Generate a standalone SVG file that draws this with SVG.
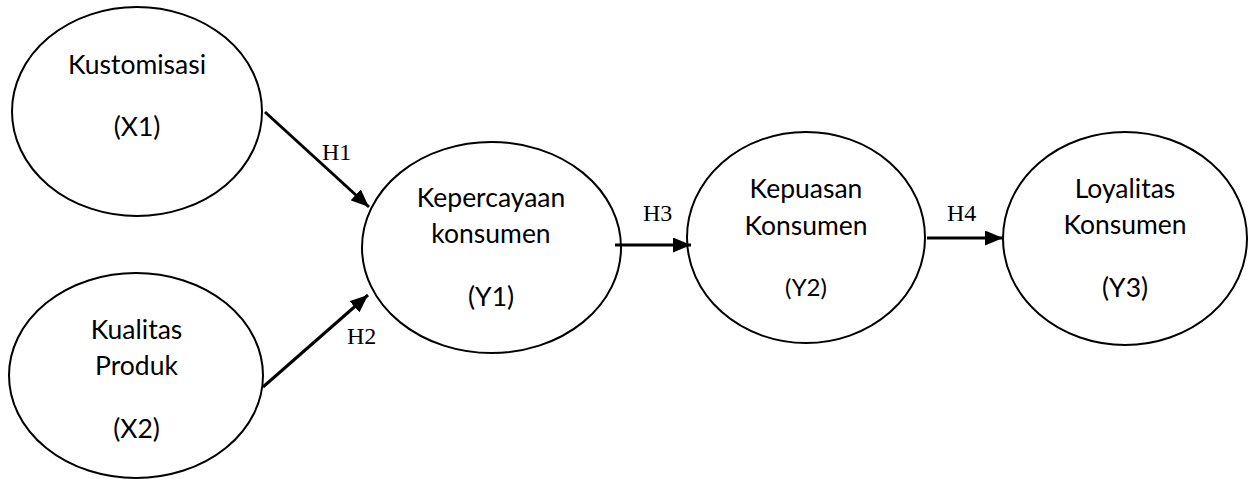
<svg xmlns="http://www.w3.org/2000/svg" width="1250" height="479" viewBox="0 0 1250 479">
  <style>
    .node ellipse { fill: #ffffff; stroke: #000000; stroke-width: 2; }
    .lbl { font-family: Lato, "Open Sans", "Liberation Sans", sans-serif; font-size: 26.5px; fill: #000000; text-anchor: middle; }
    .sm { font-size: 24px; }
    .h { font-family: "Liberation Serif", "Times New Roman", serif; font-size: 24px; fill: #000000; }
    .edge { stroke: #000000; stroke-width: 3; fill: none; marker-end: url(#arrow); }
  </style>
  <defs>
    <marker id="arrow" markerWidth="6" markerHeight="5" refX="6" refY="2.5" orient="auto" markerUnits="strokeWidth">
      <path d="M0,0 L6,2.5 L0,5 Z" fill="#000000"/>
    </marker>
  </defs>
  <rect width="1250" height="479" fill="#ffffff"/>

  <g id="node-x1" class="node">
    <ellipse cx="137" cy="111.5" rx="125" ry="104.5"/>
    <text class="lbl" x="137" y="74">Kustomisasi</text>
    <text class="lbl" x="137" y="136">(X1)</text>
  </g>
  <g id="node-x2" class="node">
    <ellipse cx="136" cy="375.5" rx="127" ry="102.5"/>
    <text class="lbl" x="136.5" y="339">Kualitas</text>
    <text class="lbl" x="136.5" y="375">Produk</text>
    <text class="lbl" x="136.5" y="438">(X2)</text>
  </g>
  <g id="node-y1" class="node">
    <ellipse cx="491.5" cy="247.5" rx="129.5" ry="105.5"/>
    <text class="lbl" x="491" y="207">Kepercayaan</text>
    <text class="lbl" x="491" y="243">konsumen</text>
    <text class="lbl" x="491" y="306">(Y1)</text>
  </g>
  <g id="node-y2" class="node">
    <ellipse cx="806" cy="237.5" rx="119" ry="105.5"/>
    <text class="lbl" x="806" y="198">Kepuasan</text>
    <text class="lbl" x="806" y="235">Konsumen</text>
    <text class="lbl sm" x="806" y="296">(Y2)</text>
  </g>
  <g id="node-y3" class="node">
    <ellipse cx="1125" cy="238.5" rx="122" ry="106.5"/>
    <text class="lbl" x="1125" y="198">Loyalitas</text>
    <text class="lbl" x="1125" y="234">Konsumen</text>
    <text class="lbl" x="1125" y="297">(Y3)</text>
  </g>

  <g id="connectors">
    <line class="edge" x1="265" y1="112" x2="369" y2="207"/>
    <line class="edge" x1="263" y1="387" x2="368" y2="295"/>
    <line class="edge" x1="615" y1="245" x2="691" y2="245"/>
    <line class="edge" x1="927" y1="238" x2="1003" y2="238"/>
    <text class="h" x="322" y="160">H1</text>
    <text class="h" x="347" y="344">H2</text>
    <text class="h" x="643" y="221">H3</text>
    <text class="h" x="947" y="221">H4</text>
  </g>
</svg>
